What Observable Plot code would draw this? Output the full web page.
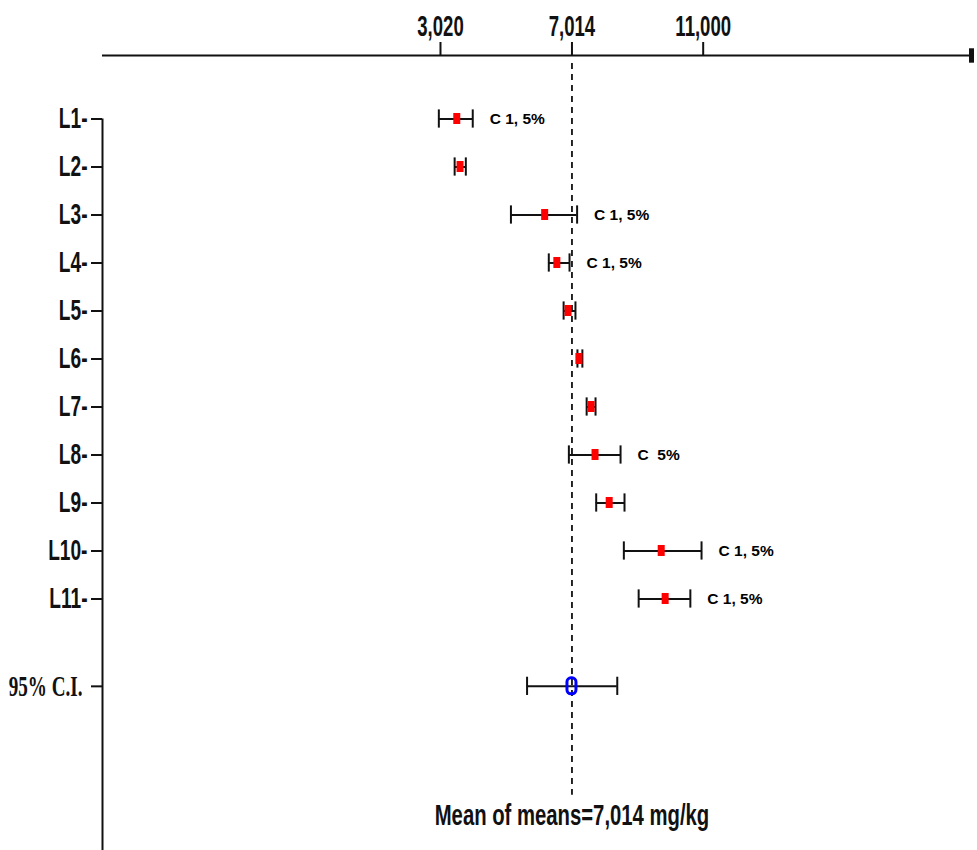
<!DOCTYPE html>
<html><head><meta charset="utf-8">
<script src="https://cdn.jsdelivr.net/npm/d3@7"></script>
<script src="https://cdn.jsdelivr.net/npm/@observablehq/plot@0.6"></script>
<style>
body{margin:0;background:#fff}
svg text{white-space:pre}
</style>
</head><body><div id="chart"></div>
<script>
// ---- data ----
const categories = ["L1","L2","L3","L4","L5","L6","L7","L8","L9","L10","L11"];
const means = [3530, 3630, 6200, 6570, 6910, 7240, 7610, 7730, 8160, 9740, 9860];
const lows  = [2970, 3450, 5160, 6310, 6760, 7180, 7460, 6920, 7750, 8590, 9040];
const highs = [4000, 3790, 7170, 6940, 7120, 7330, 7730, 8490, 8610, 10950, 10610];
const notes = ["C 1, 5%", "", "C 1, 5%", "C 1, 5%", "", "", "", "C  5%", "", "C 1, 5%", "C 1, 5%"];
const ciLabel = "95% C.I.";
const ciMean = 7014, ciLow = 5650, ciHigh = 8390;
const xTicks = [3020, 7014, 11000];
const meanOfMeans = 7014;
const meanText = "Mean of means=7,014 mg/kg";

// ---- layout ----
const X_DOMAIN = [-7247, 19181];
const Y_DOMAIN = [-1.323, 15.24];
const CI_ROW = 11.82, TEXT_ROW = 14.51, DASH_TOP = -1.156, DASH_BOTTOM = 14.09;

const rows = categories.map((c, i) => ({cat: c, row: i, mean: means[i], low: lows[i], high: highs[i], note: notes[i]}));
const ci = [{row: CI_ROW, mean: ciMean, low: ciLow, high: ciHigh}];
const rowIdx = rows.map(d => d.row);
const INK = "#111";

const svg = Plot.plot({
  width: 977, height: 850,
  marginLeft: 102, marginRight: 5, marginTop: 55, marginBottom: 0,
  style: {background: "white", fontFamily: "Liberation Sans", overflow: "visible"},
  x: {type: "linear", domain: X_DOMAIN, label: null},
  y: {type: "linear", domain: Y_DOMAIN, reverse: true, label: null},
  marks: [
    // axis lines
    Plot.ruleY([Y_DOMAIN[0]], {stroke: INK, strokeWidth: 2}),
    Plot.ruleX([X_DOMAIN[1]], {y1: Y_DOMAIN[0] - 0.14, y2: Y_DOMAIN[0] + 0.16, stroke: INK, strokeWidth: 5, dx: -1}),
    Plot.ruleX([X_DOMAIN[0]], {y1: 0, y2: Y_DOMAIN[1], stroke: INK, strokeWidth: 2}),
    // mean-of-means dashed line
    Plot.ruleX([meanOfMeans], {y1: DASH_TOP, y2: DASH_BOTTOM, stroke: INK, strokeWidth: 1.8, strokeDasharray: "6,5"}),
    // error bars
    Plot.ruleY(rows, {x1: "low", x2: "high", y: "row", stroke: INK, strokeWidth: 2}),
    Plot.ruleX(rows, {x: "low", y1: d => d.row - 0.19, y2: d => d.row + 0.19, stroke: INK, strokeWidth: 2}),
    Plot.ruleX(rows, {x: "high", y1: d => d.row - 0.19, y2: d => d.row + 0.19, stroke: INK, strokeWidth: 2}),
    Plot.rect(rows, {x1: "mean", x2: "mean", y1: "row", y2: "row", insetLeft: -3.5, insetRight: -3.5, insetTop: -5.5, insetBottom: -5.5, fill: "#ff0000"}),
    // 95% CI
    Plot.ruleY(ci, {x1: "low", x2: "high", y: "row", stroke: INK, strokeWidth: 2}),
    Plot.ruleX(ci, {x: "low", y1: d => d.row - 0.19, y2: d => d.row + 0.19, stroke: INK, strokeWidth: 2}),
    Plot.ruleX(ci, {x: "high", y1: d => d.row - 0.19, y2: d => d.row + 0.19, stroke: INK, strokeWidth: 2}),
    Plot.rect(ci, {x1: "mean", x2: "mean", y1: "row", y2: "row", insetLeft: -4.5, insetRight: -4.5, insetTop: -8, insetBottom: -8, rx: 4, fill: "none", stroke: "#0000ff", strokeWidth: 3}),
    // notes
    Plot.text(rows.filter(d => d.note), {x: "high", y: "row", text: "note", dx: 17, textAnchor: "start", fontSize: 15.5, fontWeight: "bold", fill: "#000"}),
    // axes
    Plot.axisX(xTicks, {anchor: "top", tickSize: 14, tickPadding: 6, tickFormat: d3.format(","), fontSize: 29, fontWeight: "bold", stroke: INK, strokeWidth: 2, fill: "#111", label: null}),
    Plot.axisY(rowIdx, {anchor: "left", tickSize: 11, tickPadding: 4, tickFormat: i => categories[i] + "-", fontSize: 29, fontWeight: "bold", stroke: INK, strokeWidth: 2, fill: "#111", label: null}),
    Plot.axisY([CI_ROW], {anchor: "left", tickSize: 11, tickPadding: 9, tickFormat: () => ciLabel, fontSize: 29, fontWeight: "bold", fontFamily: "Liberation Serif", stroke: INK, strokeWidth: 2, fill: "#111", label: null}),
    // mean label
    Plot.text([{x: meanOfMeans, y: TEXT_ROW, t: meanText}], {x: "x", y: "y", text: "t", fontSize: 29, fontWeight: "bold", fill: "#111"})
  ]
});
document.getElementById("chart").append(svg);

// condense the large labels horizontally (reference chart is vertically stretched)
function squeeze(sel, k) {
  sel.each(function () {
    const t = this.getAttribute("transform");
    if (t) this.setAttribute("transform", t + ` scale(${k},1)`);
    else {
      const x = +this.getAttribute("x") || 0, y = +this.getAttribute("y") || 0;
      this.removeAttribute("x"); this.removeAttribute("y");
      this.setAttribute("transform", `translate(${x},${y}) scale(${k},1)`);
    }
  });
}
const s = d3.select(svg);
squeeze(s.selectAll('g[aria-label="x-axis tick label"] text'), 0.64);
squeeze(s.selectAll('g[aria-label="y-axis tick label"] text'), 0.66);
squeeze(s.selectAll('text').filter(function () { return this.textContent === meanText; }), 0.70);
s.selectAll('text').filter(function () { return this.textContent === ciLabel; })
  .attr("font-weight", "bold").style("font-weight", "bold").attr("font-family", "Liberation Serif");
</script>
</body></html>
